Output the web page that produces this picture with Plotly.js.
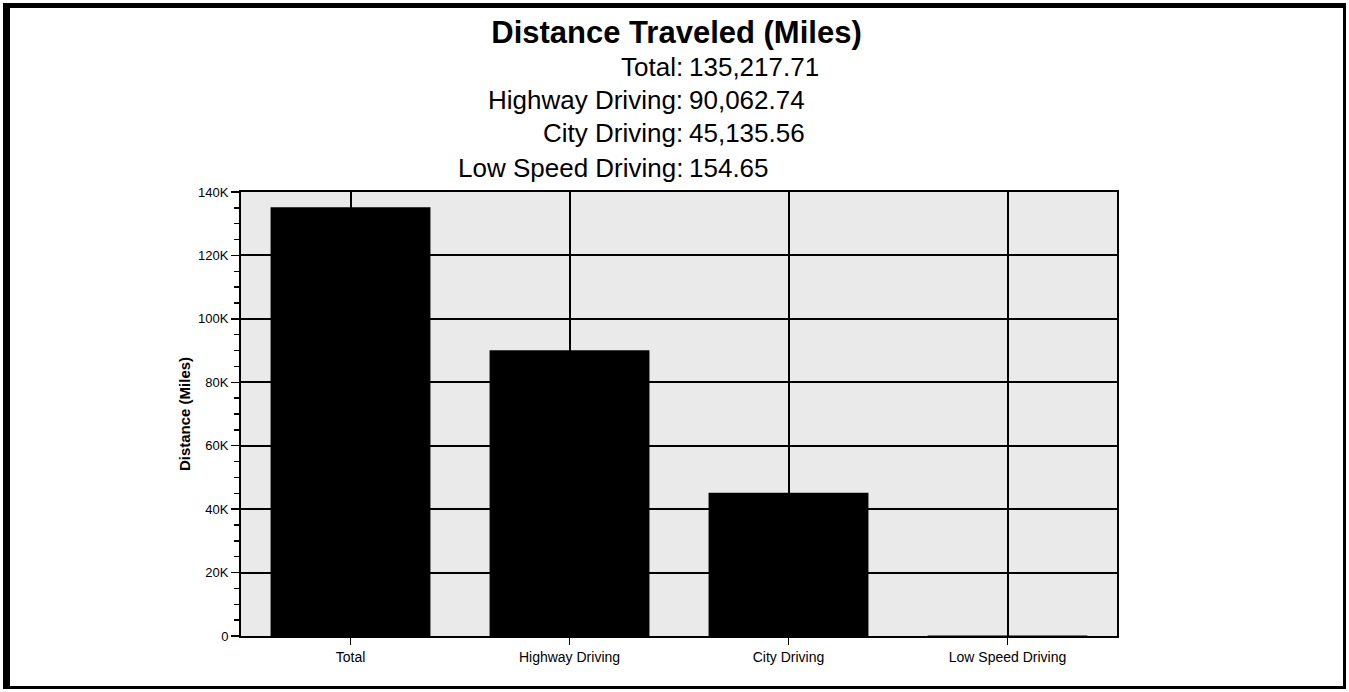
<!DOCTYPE html>
<html>
<head>
<meta charset="utf-8">
<script src="https://cdn.plot.ly/plotly-3.0.1.min.js"></script>
<style>
  html, body { margin: 0; padding: 0; background: #fff; }
  #chart { width: 1349px; height: 692px; }
  #frame { position: absolute; left: 3px; top: 3px; width: 1333px; height: 678px;
           border-left: 7px solid #000; border-top: 5px solid #000;
           border-right: 3px solid #000; border-bottom: 3px solid #000; pointer-events: none; }
</style>
</head>
<body>
<div id="chart"></div>
<div id="frame"></div>
<script>
const categories = ["Total", "Highway Driving", "City Driving", "Low Speed Driving"];
const distances = [135217.71, 90062.74, 45135.56, 154.65];
const distanceLabels = ["135,217.71", "90,062.74", "45,135.56", "154.65"];
const yTickValues = [0, 20000, 40000, 60000, 80000, 100000, 120000, 140000];
const yTickLabels = ["0", "20K", "40K", "60K", "80K", "100K", "120K", "140K"];

const FONT = "Liberation Sans, Arial, sans-serif";
const W = 1349, H = 692;
const L = 241, R = 1117, T = 192, B = 636;
const px2x = p => (p - L) / (R - L);
const py2y = p => (B - p) / (B - T);

const lineY = [67, 100, 133, 168];
const annotations = [];
categories.forEach((c, i) => {
  annotations.push({
    xref: "paper", yref: "paper", x: px2x(685), y: py2y(lineY[i]),
    xanchor: "right", yanchor: "middle", showarrow: false,
    text: c + ":", font: { family: FONT, size: 26, color: "#000" }
  });
  annotations.push({
    xref: "paper", yref: "paper", x: px2x(687), y: py2y(lineY[i]),
    xanchor: "left", yanchor: "middle", showarrow: false,
    text: distanceLabels[i], font: { family: FONT, size: 26, color: "#000" }
  });
});

const data = [{
  type: "bar",
  x: categories,
  y: distances,
  width: 0.73,
  marker: { color: "#000", line: { width: 0 } },
  hoverinfo: "x+y"
}];

const layout = {
  width: W, height: H,
  margin: { l: L, r: W - R, t: T, b: H - B, pad: 0 },
  paper_bgcolor: "#fff",
  plot_bgcolor: "#eaeaea",
  showlegend: false,
  title: {
    text: "<b>Distance Traveled (Miles)</b>",
    x: 676.5 / W, xanchor: "center",
    y: 1 - 32 / H, yanchor: "middle",
    font: { family: FONT, size: 31, color: "#000" }
  },
  xaxis: {
    type: "category",
    showgrid: true, gridcolor: "#000", gridwidth: 2,
    ticks: "outside", ticklen: 7, tickwidth: 1.5, tickcolor: "#000",
    showline: true, linecolor: "#000", linewidth: 2, mirror: true,
    tickfont: { family: FONT, size: 14, color: "#000" },
    fixedrange: true
  },
  yaxis: {
    range: [0, 140000],
    tickvals: yTickValues, ticktext: yTickLabels,
    showgrid: true, gridcolor: "#000", gridwidth: 2,
    zeroline: false,
    ticks: "outside", ticklen: 8, tickwidth: 1.5, tickcolor: "#000",
    minor: { dtick: 5000, ticks: "outside", ticklen: 5, tickwidth: 1.5, tickcolor: "#000", showgrid: false },
    showline: true, linecolor: "#000", linewidth: 2, mirror: true,
    tickfont: { family: FONT, size: 13, color: "#000" },
    title: { text: "<b>Distance (Miles)</b>", font: { family: FONT, size: 15, color: "#000" }, standoff: 4 },
    fixedrange: true
  },
  annotations: annotations
};

Plotly.newPlot("chart", data, layout, { displayModeBar: false, staticPlot: true });
</script>
</body>
</html>
